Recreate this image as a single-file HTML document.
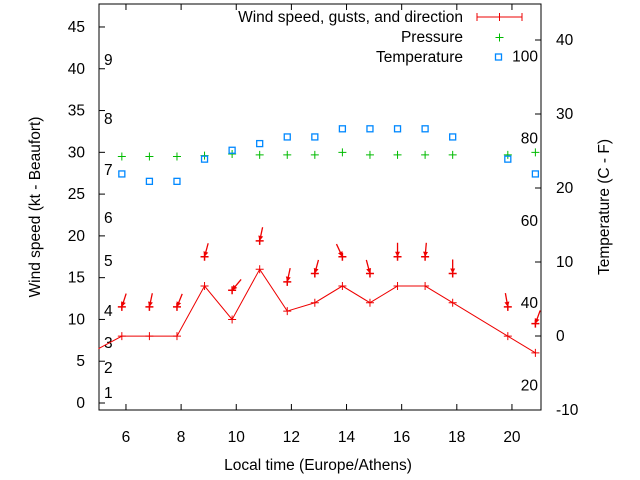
<!DOCTYPE html>
<html><head><meta charset="utf-8"><style>
body{margin:0;background:#fff}
svg{display:block;font-family:"Liberation Sans",sans-serif}
</style></head><body>
<svg id="chart" width="640" height="480" viewBox="0 0 640 480" xmlns="http://www.w3.org/2000/svg">
</svg>
<script>
const hours=[5.85,6.85,7.85,8.85,9.85,10.85,11.85,12.85,13.85,14.85,15.85,16.85,17.85,19.85,20.85];
const windKt=[8,8,8,14,10,16,11,12,14,12,14,14,12,8,6];
const gustKt=[11.5,11.5,11.5,17.5,13.5,19.4,14.5,15.5,17.5,15.5,17.5,17.5,15.5,11.5,9.5];
const windDir=[18,12,22,15,40,12,12,15,-25,-15,0,5,0,-10,20];
const pressure=[29.5,29.5,29.5,29.6,29.8,29.7,29.7,29.7,30.0,29.7,29.7,29.7,29.7,29.7,30.0];
const tempHours=[5.85,6.85,7.85,8.85,9.85,10.85,11.85,12.85,13.85,14.85,15.85,16.85,17.85,19.85,20.85];
const tempC=[21.9,20.9,20.9,23.9,25.1,26.0,26.9,26.9,28.0,28.0,28.0,28.0,26.9,23.9,21.9];
const xTicks=[6,8,10,12,14,16,18,20];
const yTicks=[0,5,10,15,20,25,30,35,40,45];
const y2Ticks=[-10,0,10,20,30,40];
const beaufort=[[1,393],[2,368],[3,343],[4,311],[5,261],[6,218],[7,170],[8,119],[9,60]];
const fTicks=[20,40,60,80,100];
const L=99,R=541,T=4,B=410;
const X=h=>98.4+(h-5)*27.57;
const Y=v=>403-v*8.356;
const Y2=c=>336-c*7.4;
const svg=document.getElementById('chart');
const NS='http://www.w3.org/2000/svg';
function mk(tag,attrs,parent){const e=document.createElementNS(NS,tag);for(const k in attrs)e.setAttribute(k,attrs[k]);(parent||svg).appendChild(e);return e;}
function txt(s,x,y,anchor,extra){const t=mk('text',Object.assign({x:x,y:y,'font-size':'15.5','text-anchor':anchor||'start',fill:'#000'},extra||{}));t.textContent=s;return t;}
let fr=mk('rect',{x:L,y:T,width:R-L,height:B-T,fill:'none',stroke:'#000','stroke-width':1});


xTicks.forEach(h=>{const x=X(h);
 mk('line',{x1:x,y1:B,x2:x,y2:B-6,stroke:'#000'});mk('line',{x1:x,y1:T,x2:x,y2:T+6,stroke:'#000'});
 const t=txt(String(h),x,442,'middle');
 
 });
yTicks.forEach(v=>{const y=Y(v);mk('line',{x1:L,y1:y,x2:L+6,y2:y,stroke:'#000'});
 const t=txt(String(v),85,y+5,'end');
 
 });
y2Ticks.forEach(c=>{const y=Y2(c);mk('line',{x1:R,y1:y,x2:R-6,y2:y,stroke:'#000'});
 const t=txt(String(c),556,y+5,'start');
 
 });
beaufort.forEach(b=>{const t=txt(String(b[0]),104,b[1]+5,'start');
 
 });
fTicks.forEach(f=>{const t=txt(String(f),538,Y2((f-32)/1.8)+5,'end');
 
 });
let t1=txt('Local time (Europe/Athens)',318,470,'middle');

let t2=txt('Wind speed (kt - Beaufort)',0,0,'middle',{transform:'translate(40,207) rotate(-90)'});

let t3=txt('Temperature (C - F)',0,0,'middle',{transform:'translate(609,207) rotate(-90)'});

const leg=[['Wind speed, gusts, and direction',22],['Pressure',42],['Temperature',62]];
leg.forEach(l=>{const t=txt(l[0],463,l[1],'end');});
mk('line',{x1:477,y1:17,x2:522,y2:17,stroke:'#e00'});
[477,499.5,522].forEach(x=>mk('line',{x1:x,y1:13,x2:x,y2:21,stroke:'#e00'}));
mk('path',{d:'M495.5 37.5h8M499.5 33.5v8',stroke:'#0b0','stroke-width':1});
mk('rect',{x:495.5,y:54,width:6,height:6,fill:'none',stroke:'#08f','stroke-width':1.3});
const pts=[[X(5),Y(6.5)]].concat(hours.map((h,i)=>[X(h),Y(windKt[i])]));
let wl=mk('polyline',{points:pts.map(p=>p.join(',')).join(' '),fill:'none',stroke:'#e00','stroke-width':1});

hours.forEach((h,i)=>{const x=X(h),y=Y(windKt[i]);
 const p=mk('path',{d:`M${x-4} ${y}h8M${x} ${y-4}v8`,stroke:'#e00','stroke-width':1});
 });
hours.forEach((h,i)=>{const x=X(h),y=Y(gustKt[i]);
 const g=mk('path',{d:`M${x-4} ${y}h8M${x} ${y-4}v8`,stroke:'#e00','stroke-width':1.5});
 
 const a=windDir[i]*Math.PI/180,len=14;const tx=x+len*Math.sin(a),ty=y-len*Math.cos(a);
 const ar=mk('line',{x1:tx,y1:ty,x2:x,y2:y,stroke:'#e00','stroke-width':1.3});
 
 const ux=(x-tx)/len,uy=(y-ty)/len;
 mk('polygon',{points:`${x},${y} ${x-5*ux+2.5*uy},${y-5*uy-2.5*ux} ${x-5*ux-2.5*uy},${y-5*uy+2.5*ux}`,fill:'#e00'});});
hours.forEach((h,i)=>{const x=X(h),y=Y(pressure[i]);
 const p=mk('path',{d:`M${x-4} ${y}h8M${x} ${y-4}v8`,stroke:'#0b0','stroke-width':1});
 });
tempHours.forEach((h,i)=>{const x=X(h),y=Y2(tempC[i]);
 const r=mk('rect',{x:x-3,y:y-3,width:6,height:6,fill:'none',stroke:'#08f','stroke-width':1.3});
 });
</script>
</body></html>
